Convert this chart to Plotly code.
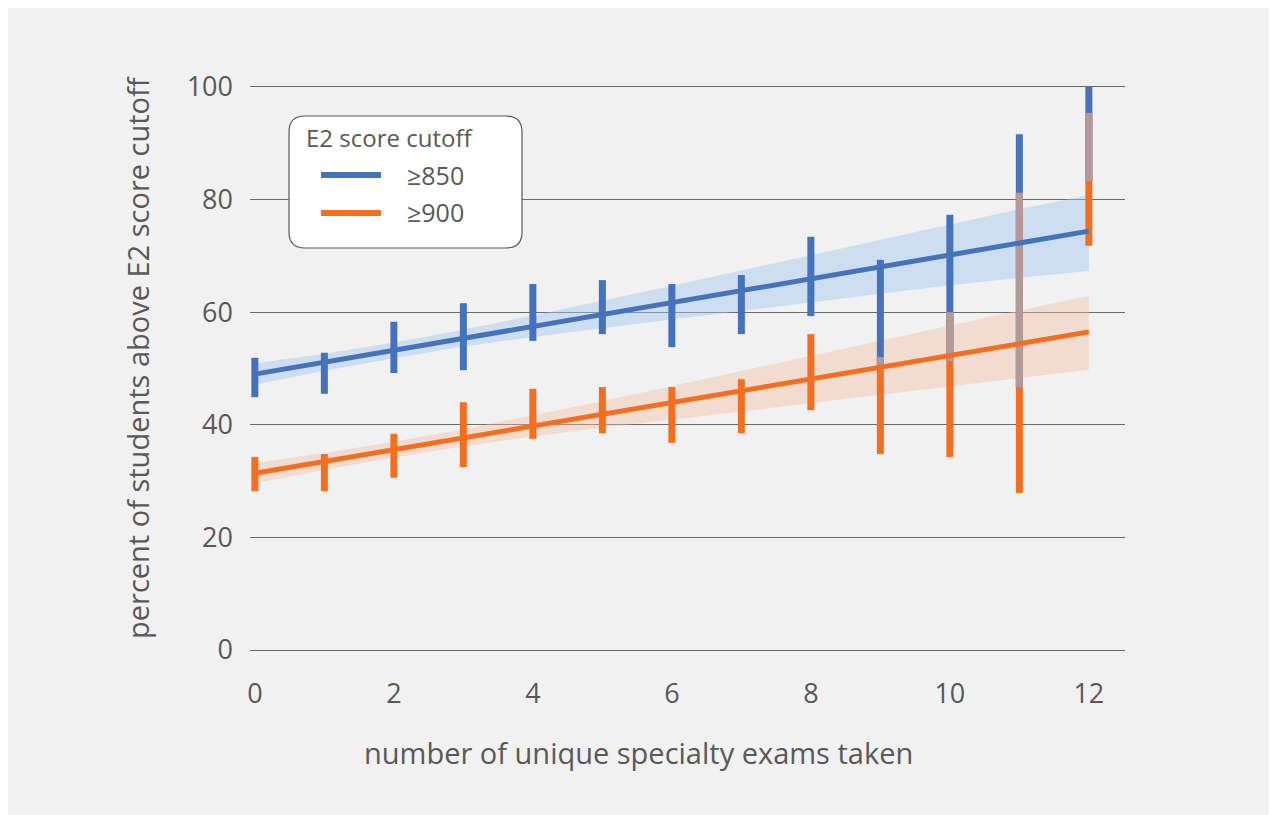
import plotly.graph_objects as go

W, H = 1277, 815
L, R, T, B = 242, 160, 79, 173

exams = [0, 1, 2, 3, 4, 5, 6, 7, 8, 9, 10, 11, 12]

# >=850 series: interval bars (low, high)
b850_lo = [44.9, 45.5, 49.2, 49.7, 54.9, 56.1, 53.8, 56.1, 59.3, 50.5, 51.3, 46.7, 83.3]
b850_hi = [51.9, 52.8, 58.3, 61.6, 65.0, 65.7, 65.0, 66.6, 73.4, 69.3, 77.3, 91.6, 100.0]
# >=850 fit line and band
f850 = [49.0, 51.1, 53.2, 55.4, 57.5, 59.6, 61.7, 63.8, 65.9, 68.1, 70.2, 72.3, 74.4]
f850_up = [50.9, 52.6, 54.6, 56.9, 59.4, 62.0, 64.7, 67.4, 70.1, 72.9, 75.6, 78.3, 80.8]
f850_lo = [47.1, 49.6, 51.8, 53.9, 55.6, 57.2, 58.7, 60.2, 61.7, 63.3, 64.8, 66.1, 67.3]

# >=900 series
b900_lo = [28.2, 28.2, 30.6, 32.5, 37.5, 38.5, 36.8, 38.5, 42.6, 34.8, 34.3, 27.9, 71.8]
b900_hi = [34.3, 34.8, 38.4, 44.0, 46.4, 46.7, 46.7, 48.1, 56.1, 52.0, 60.0, 81.2, 95.4]
f900 = [31.4, 33.5, 35.6, 37.7, 39.8, 41.9, 43.9, 46.0, 48.1, 50.2, 52.3, 54.4, 56.5]
f900_up = [33.2, 35.0, 37.0, 39.2, 41.7, 44.2, 46.9, 49.6, 52.2, 54.9, 57.6, 60.3, 62.9]
f900_lo = [29.6, 32.0, 34.2, 36.2, 37.9, 39.5, 40.9, 42.4, 43.9, 45.4, 46.9, 48.3, 49.8]

x_ticks = [0, 2, 4, 6, 8, 10, 12]
y_ticks = [0, 20, 40, 60, 80, 100]

BLUE = "#4672bb"
ORANGE = "#f26f21"
MIX = "#b09a9c"
TXT = "#595959"
GRID = "#6b6b6b"
FONT = "Open Sans"


def segs(xs, lo, hi):
    X, Y = [], []
    for x, a, b in zip(xs, lo, hi):
        X += [x, x, None]
        Y += [a, b, None]
    return X, Y


fig = go.Figure()

# bands
fig.add_trace(go.Scatter(x=exams, y=f850_lo, mode="lines", line=dict(width=0), showlegend=False, hoverinfo="skip"))
fig.add_trace(go.Scatter(x=exams, y=f850_up, mode="lines", line=dict(width=0), fill="tonexty",
                         fillcolor="rgba(160,200,238,0.45)", showlegend=False, hoverinfo="skip"))
fig.add_trace(go.Scatter(x=exams, y=f900_lo, mode="lines", line=dict(width=0), showlegend=False, hoverinfo="skip"))
fig.add_trace(go.Scatter(x=exams, y=f900_up, mode="lines", line=dict(width=0), fill="tonexty",
                         fillcolor="rgba(244,190,160,0.40)", showlegend=False, hoverinfo="skip"))

# interval bars
X, Y = segs(exams, b850_lo, b850_hi)
fig.add_trace(go.Scatter(x=X, y=Y, mode="lines", line=dict(color=BLUE, width=7), showlegend=False))
X, Y = segs(exams, b900_lo, b900_hi)
fig.add_trace(go.Scatter(x=X, y=Y, mode="lines", line=dict(color=ORANGE, width=7), showlegend=False))
# overlap of the two bars
ov_x, ov_lo, ov_hi = [], [], []
for x, bl, bh, ol, oh in zip(exams, b850_lo, b850_hi, b900_lo, b900_hi):
    lo, hi = max(bl, ol), min(bh, oh)
    if hi > lo:
        ov_x.append(x); ov_lo.append(lo); ov_hi.append(hi)
X, Y = segs(ov_x, ov_lo, ov_hi)
fig.add_trace(go.Scatter(x=X, y=Y, mode="lines", line=dict(color=MIX, width=7), showlegend=False))

# fit lines
fig.add_trace(go.Scatter(x=exams, y=f850, mode="lines", line=dict(color=BLUE, width=5), showlegend=False))
fig.add_trace(go.Scatter(x=exams, y=f900, mode="lines", line=dict(color=ORANGE, width=5), showlegend=False))

px_w = W - L - R
px_h = H - T - B


def px(xp):
    return (xp - L) / px_w


def py(yp):
    return 1 - (yp - T) / px_h


shapes = []
# rounded legend box
x0, x1, y0, y1, r = px(281), px(514), py(108), py(240), 16
rx, ry = r / px_w, r / px_h
path = (f"M {x0+rx},{y0} L {x1-rx},{y0} Q {x1},{y0} {x1},{y0-ry} L {x1},{y1+ry} Q {x1},{y1} {x1-rx},{y1} "
        f"L {x0+rx},{y1} Q {x0},{y1} {x0},{y1+ry} L {x0},{y0-ry} Q {x0},{y0} {x0+rx},{y0} Z")
shapes.append(dict(type="path", xref="paper", yref="paper", path=path, fillcolor="white",
                   line=dict(color="#595959", width=1.2), layer="above"))
shapes.append(dict(type="line", xref="paper", yref="paper", x0=px(313), x1=px(373), y0=py(167), y1=py(167),
                   line=dict(color=BLUE, width=6), layer="above"))
shapes.append(dict(type="line", xref="paper", yref="paper", x0=px(313), x1=px(373), y0=py(205), y1=py(205),
                   line=dict(color=ORANGE, width=6), layer="above"))

annotations = [
    dict(text="E2 score cutoff", xref="paper", yref="paper", x=px(296), y=py(130), xanchor="left",
         yanchor="middle", showarrow=False, font=dict(family=FONT, size=24, color=TXT)),
    dict(text="≥850", xref="paper", yref="paper", x=px(397), y=py(167), xanchor="left",
         yanchor="middle", showarrow=False, font=dict(family=FONT, size=25, color=TXT)),
    dict(text="≥900", xref="paper", yref="paper", x=px(397), y=py(204), xanchor="left",
         yanchor="middle", showarrow=False, font=dict(family=FONT, size=25, color=TXT)),
    dict(text="number of unique specialty exams taken", xref="paper", yref="paper", x=px(630), y=py(745),
         xanchor="center", yanchor="middle", showarrow=False, font=dict(family=FONT, size=29, color=TXT)),
    dict(text="percent of students above E2 score cutoff", xref="paper", yref="paper", x=px(130), y=py(350),
         xanchor="center", yanchor="middle", textangle=-90, showarrow=False,
         font=dict(family=FONT, size=29, color=TXT)),
]

fig.update_layout(
    width=W, height=H,
    margin=dict(l=L, r=R, t=T, b=B, pad=0),
    paper_bgcolor="#f1f1f1", plot_bgcolor="rgba(0,0,0,0)",
    shapes=shapes, annotations=annotations,
    showlegend=False,
    font=dict(family=FONT, color=TXT),
)
fig.update_xaxes(range=[-0.07, 12.52], tickvals=x_ticks, ticktext=[str(v) for v in x_ticks],
                 showgrid=False, zeroline=False, showline=True, mirror=True, linecolor=GRID, linewidth=1,
                 ticks="", tickfont=dict(family=FONT, size=27, color=TXT), ticklabelstandoff=20)
fig.update_yaxes(range=[0, 100], tickvals=y_ticks, ticktext=[str(v) for v in y_ticks],
                 showgrid=True, gridcolor=GRID, gridwidth=1, zeroline=False, showline=False,
                 ticks="", tickfont=dict(family=FONT, size=27, color=TXT), ticklabelstandoff=16)

fig.write_html("out.html")
